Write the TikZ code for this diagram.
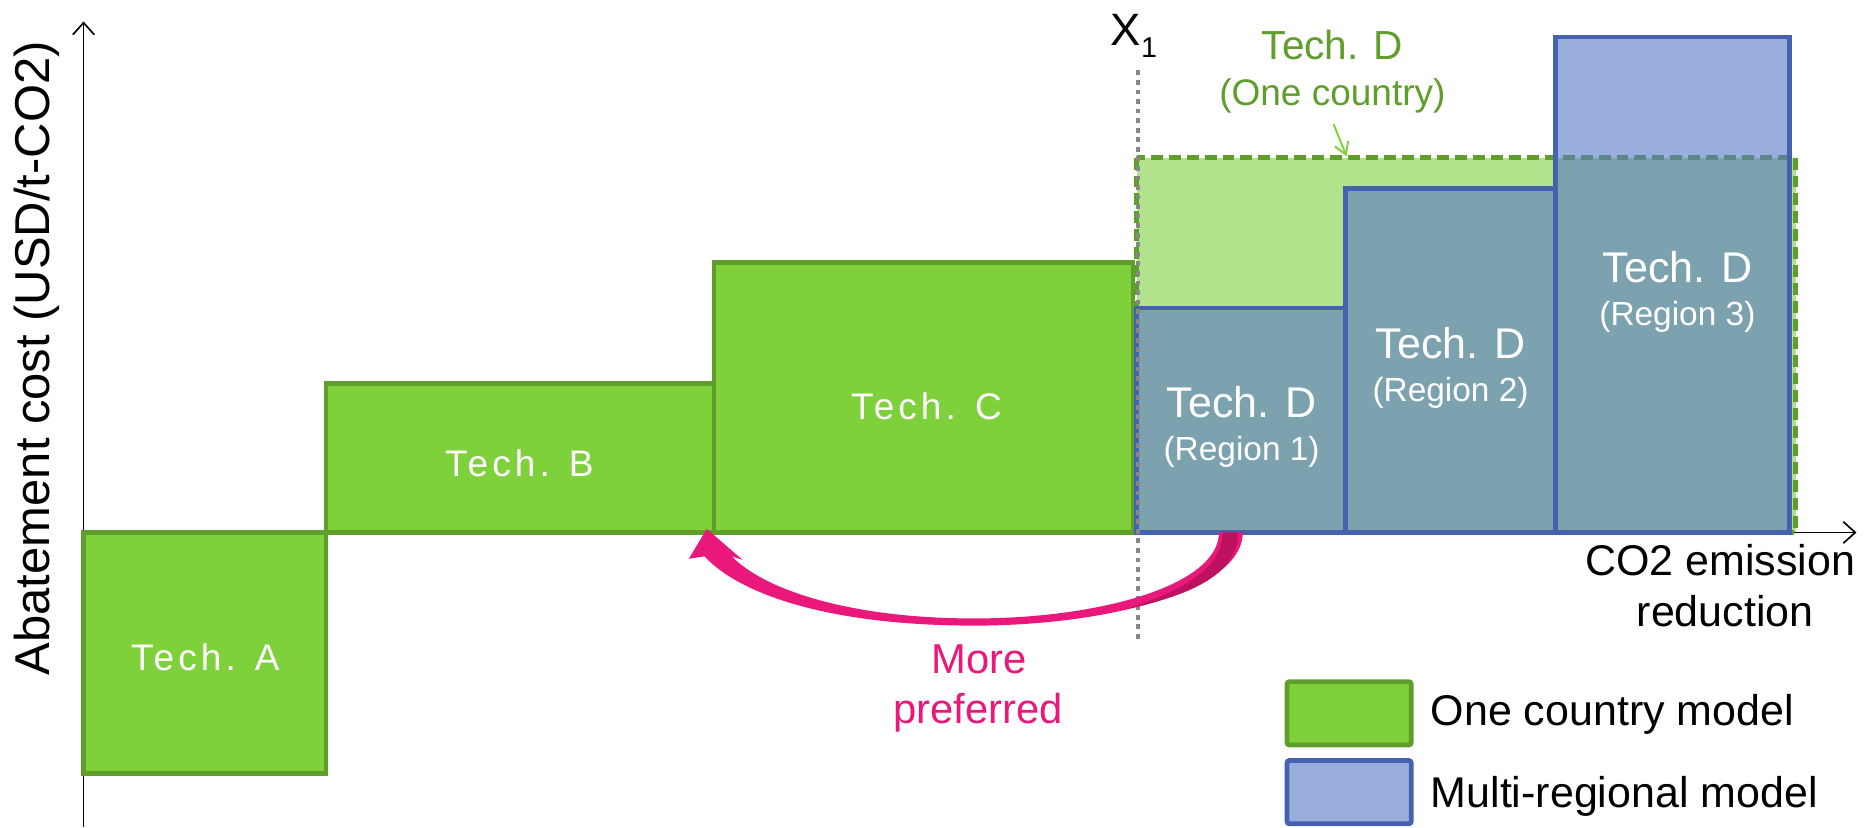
\documentclass[tikz,border=0pt]{standalone}
\usepackage{fontspec}
\setmainfont{Liberation Sans}
\newfontfamily\spacedfont[LetterSpace=11]{Liberation Sans}
\usetikzlibrary{arrows.meta}
\definecolor{gfill}{RGB}{126,209,59}
\definecolor{gline}{RGB}{96,158,44}
\definecolor{lgreen}{RGB}{178,226,139}
\definecolor{bline}{RGB}{68,98,174}
\definecolor{bfill}{RGB}{87,120,198}
\definecolor{pinkc}{RGB}{233,24,122}
\definecolor{pinkd}{RGB}{188,18,95}
\definecolor{dotgray}{RGB}{135,135,135}
\newcommand{\fsz}[1]{\fontsize{#1}{#1}\selectfont}
\tikzset{
  gbox/.style={fill=gfill, draw=gline, line width=2pt},
  bboxfill/.style={fill=bfill, fill opacity=0.6, draw=none},
  bboxline/.style={draw=bline, line width=2pt},
  axisline/.style={line width=0.7pt, -{Straight Barb[length=5pt,width=9pt]}},
  wlab/.style={text=white, anchor=base, inner sep=0pt},
  blab/.style={text=black, anchor=base, inner sep=0pt},
}
\begin{document}
\begin{tikzpicture}[x=0.5pt, y=-0.5pt]
\useasboundingbox (0,0) rectangle (1568,693);
% axes
\coordinate (yb) at (70,693);
\coordinate (yt) at (70,18);
\coordinate (xl) at (70,446);
\coordinate (xr) at (1555,446);
\draw[axisline] (yb) -- (yt);
\draw[axisline] (xl) -- (xr);
% one-country boxes
\draw[gbox] (70,446) rectangle (273,648);
\draw[gbox] (273,321) rectangle (598,446);
\draw[gbox] (598,220) rectangle (949,446);
% Tech D one country (dashed)
\fill[lgreen] (952,132) rectangle (1504,446);
\draw[gline, line width=2.4pt, dash pattern=on 5pt off 2.5pt] (952,132) rectangle (1504,446);
% multi-regional boxes
\fill[bboxfill] (952,258) rectangle (1127,446);
\fill[bboxfill] (1127,158) rectangle (1303,446);
\fill[bboxfill] (1303,31) rectangle (1499,446);
\draw[bboxline] (952,258) rectangle (1127,446);
\draw[bboxline] (1127,158) rectangle (1303,446);
\draw[bboxline] (1303,31) rectangle (1499,446);
% dotted X1 line
\coordinate (dt) at (953,59);
\coordinate (db) at (953,537);
\draw[dotgray, line width=1.8pt, dash pattern=on 2pt off 2pt] (dt) -- (db);
% pink curved arrow
\fill[pinkc] (1041,446) .. controls (1041,494) and (930,524) .. (816,524)
  .. controls (700,524) and (622,500) .. (590,466)
  -- (577,468) -- (592,443) -- (622,469) -- (613,466)
  .. controls (640,494) and (712,518) .. (816,518)
  .. controls (922,518) and (1021,490) .. (1021,446) -- cycle;
\fill[pinkd] (1024,446) -- (1037,446) .. controls (1037,480) and (1000,498) .. (944,510)
  .. controls (992,494) and (1024,476) .. (1024,446) -- cycle;
% small green arrow
\coordinate (ga1) at (1117,104);
\coordinate (ga2) at (1128,131);
\draw[gfill, line width=0.8pt, -{Straight Barb[length=5pt,width=6pt]}] (ga1) -- (ga2);
% labels
\node[blab] (ylab) at (31,300) [rotate=90, anchor=center] {\fsz{20.5}Abatement cost (USD/t-CO2)};
\node[blab, anchor=base west] (x1) at (930,38) {\fsz{19}X{\fsz{12}\raisebox{-5pt}{1}}};
\node[wlab] (ta) at (172,562) {\spacedfont\fsz{15.5}Tech. A};
\node[wlab] (tb) at (435,399) {\spacedfont\fsz{15.5}Tech. B};
\node[wlab] (tc) at (776,351) {\spacedfont\fsz{15.5}Tech. C};
\node[wlab] (r1a) at (1040,350) {\fsz{18}Tech. D};
\node[wlab] (r1b) at (1040,386) {\fsz{14}(Region 1)};
\node[wlab] (r2a) at (1215,300) {\fsz{18}Tech. D};
\node[wlab] (r2b) at (1215,336) {\fsz{14}(Region 2)};
\node[wlab] (r3a) at (1405,237) {\fsz{18}Tech. D};
\node[wlab] (r3b) at (1405,273) {\fsz{14}(Region 3)};
\node[blab, text=gline] (oca) at (1116,50) {\fsz{17}Tech. D};
\node[blab, text=gline] (ocb) at (1116,88.5) {\fsz{15.5}(One country)};
\node[blab] (co2a) at (1441,482) {\fsz{18}CO2 emission};
\node[blab] (co2b) at (1445,525) {\fsz{18}reduction};
\node[blab, text=pinkc] (mp1) at (820,564) {\fsz{17.5}More};
\node[blab, text=pinkc] (mp2) at (819,606) {\fsz{17.5}preferred};
% legend
\draw[gbox, rounded corners=1pt] (1078,571) rectangle (1182,624);
\fill[bfill, opacity=0.6, rounded corners=1pt] (1078,637) rectangle (1182,690);
\draw[bboxline, rounded corners=1pt] (1078,637) rectangle (1182,690);
\node[blab, anchor=base west] (lg1) at (1198,608) {\fsz{18}One country model};
\node[blab, anchor=base west] (lg2) at (1198,676) {\fsz{18}Multi-regional model};
\end{tikzpicture}
\end{document}
